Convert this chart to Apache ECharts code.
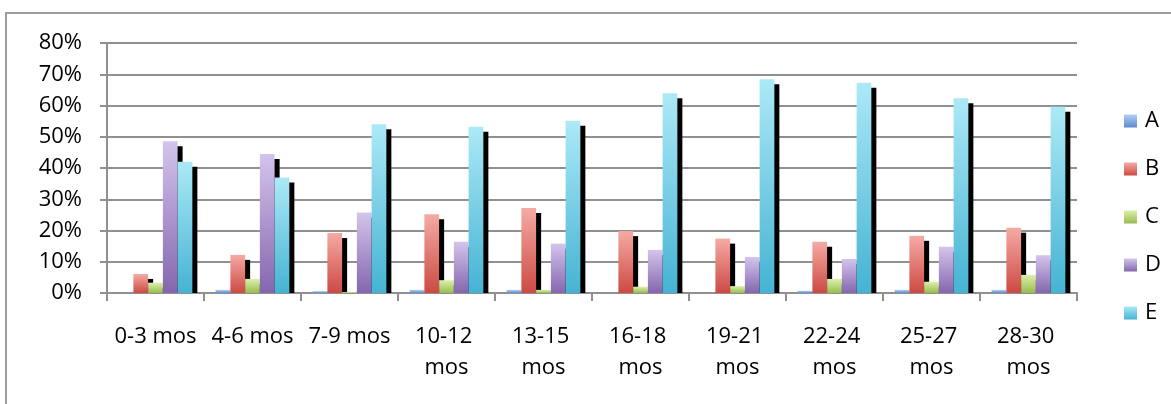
<!DOCTYPE html>
<html>
<head>
<meta charset="utf-8">
<script src="https://cdn.jsdelivr.net/npm/echarts@6/dist/echarts.min.js"></script>
<style>
  html, body { margin: 0; padding: 0; background: #ffffff; }
  #chart { width: 1171px; height: 404px; }
</style>
</head>
<body>
<div id="chart"></div>
<script>
// Age bands on the x axis
const categories = ['0-3 mos', '4-6 mos', '7-9 mos', '10-12 mos', '13-15 mos',
                    '16-18 mos', '19-21 mos', '22-24 mos', '25-27 mos', '28-30 mos'];
const seriesNames = ['A', 'B', 'C', 'D', 'E'];

// Share of children in each group, percent
const valuesA = [0, 1, 0.6, 1, 1, 0, 0, 0.7, 1, 1];
const valuesB = [6.1, 12.2, 19.2, 25.2, 27.2, 19.8, 17.4, 16.4, 18.3, 20.9];
const valuesC = [3.3, 4.5, 0.3, 4.1, 1, 2, 2.2, 4.5, 3.6, 5.8];
const valuesD = [48.6, 44.5, 25.8, 16.4, 15.8, 13.8, 11.5, 10.9, 14.8, 12.1];
const valuesE = [42, 37, 54, 53.2, 55.1, 63.9, 68.4, 67.3, 62.3, 59.6];

const yTicks = [0, 10, 20, 30, 40, 50, 60, 70, 80];

const allValues = [valuesA, valuesB, valuesC, valuesD, valuesE];

// Top-to-bottom fill for each series (light top, saturated bottom)
const palette = [
  ['#b3cff2', '#5b8ad0'],
  ['#f6aaa4', '#cc4a43'],
  ['#dcf0ab', '#98bc4f'],
  ['#d4c4ec', '#8466ae'],
  ['#ace9f7', '#45b3d3']
];

const FONT = '"Open Sans", "Liberation Sans", sans-serif';
const GRID_COLOR = '#909090';
const CATEGORY_GAP = 0.24;   // fraction of a category band left empty
const SHADOW_OFFSET = 5;

function gradient(stops) {
  return {
    type: 'linear', x: 0, y: 0, x2: 0, y2: 1,
    colorStops: [{ offset: 0, color: stops[0] }, { offset: 1, color: stops[1] }]
  };
}

// Bars are placed side by side inside each band; each bar casts a hard black
// drop shadow that stops at the baseline.
function makeRenderItem(seriesIdx, count) {
  return function (params, api) {
    const cat = api.value(0);
    const val = api.value(1);
    const base = api.coord([cat, 0]);
    const top = api.coord([cat, val]);
    const bandW = api.size([1, 0])[0];
    const barW = bandW * (1 - CATEGORY_GAP) / count;
    const x = base[0] - barW * count / 2 + seriesIdx * barW;
    const h = base[1] - top[1];
    const children = [];
    const shTop = top[1] + SHADOW_OFFSET;
    if (base[1] - shTop > 0) {
      children.push({
        type: 'rect',
        z2: 0,
        shape: { x: x + SHADOW_OFFSET, y: shTop, width: barW, height: base[1] - shTop },
        style: { fill: '#000000' }
      });
    }
    if (h > 0) {
      children.push({
        type: 'rect',
        z2: 1,
        shape: { x: x, y: top[1], width: barW, height: h },
        style: { fill: api.visual('color') }
      });
    }
    return { type: 'group', children: children };
  };
}

const series = seriesNames.map((name, i) => ({
  name: name,
  type: 'custom',
  renderItem: makeRenderItem(i, seriesNames.length),
  encode: { x: 0, y: 1 },
  itemStyle: { color: gradient(palette[i]) },
  data: allValues[i].map((v, k) => [k, v])
}));

const chart = echarts.init(document.getElementById('chart'), null, { renderer: 'canvas' });

chart.setOption({
  animation: false,
  backgroundColor: '#ffffff',
  textStyle: { fontFamily: FONT },
  graphic: [{
    type: 'rect',
    z: -10,
    shape: { x: 6, y: 13, width: 1300, height: 600 },
    style: { fill: 'none', stroke: '#9c9c9c', lineWidth: 2 }
  }],
  grid: { left: 107, right: 94, top: 43, bottom: 111 },
  legend: {
    orient: 'vertical',
    left: 1119,
    top: 104,
    icon: 'rect',
    itemWidth: 13,
    itemHeight: 13,
    itemGap: 24,
    data: seriesNames,
    textStyle: { fontFamily: FONT, fontSize: 22, color: '#000000', lineHeight: 24, padding: [0, 0, 0, 3] }
  },
  xAxis: {
    type: 'category',
    data: categories,
    boundaryGap: true,
    axisLine: { show: true, lineStyle: { color: GRID_COLOR, width: 2 } },
    axisTick: { show: true, length: 8, lineStyle: { color: GRID_COLOR, width: 2 } },
    axisLabel: {
      interval: 0,
      margin: 28,
      width: 95,
      overflow: 'break',
      lineHeight: 31,
      fontFamily: FONT,
      fontSize: 22,
      color: '#000000'
    },
    splitLine: { show: false }
  },
  yAxis: {
    type: 'value',
    min: yTicks[0],
    max: yTicks[yTicks.length - 1],
    interval: yTicks[1] - yTicks[0],
    axisLine: { show: true, lineStyle: { color: GRID_COLOR, width: 2 } },
    axisTick: { show: true, length: 7, lineStyle: { color: GRID_COLOR, width: 2 } },
    axisLabel: {
      margin: 25,
      formatter: '{value}%',
      fontFamily: FONT,
      fontSize: 22,
      color: '#000000'
    },
    splitLine: { show: true, lineStyle: { color: GRID_COLOR, width: 2 } }
  },
  series: series
});
</script>
</body>
</html>
